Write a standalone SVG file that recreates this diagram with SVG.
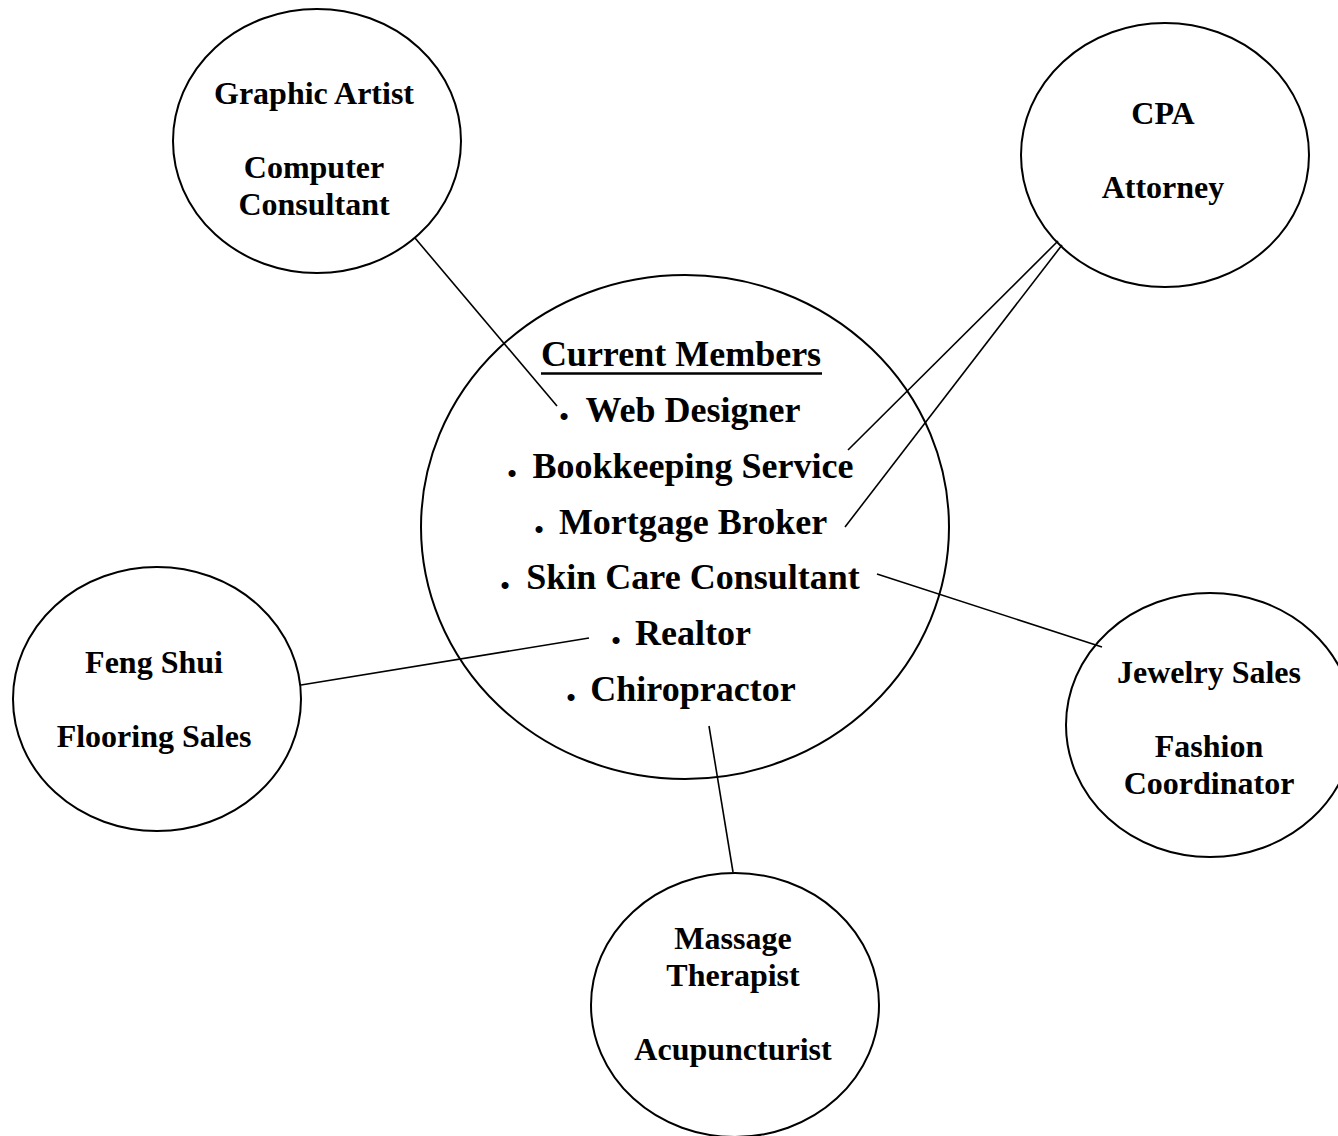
<svg xmlns="http://www.w3.org/2000/svg" width="1338" height="1136" viewBox="0 0 1338 1136">
<style>
.node{fill:#fff;stroke:#000;stroke-width:2}
.t{font-family:"Liberation Serif","Times New Roman",serif;font-weight:bold;font-size:32px;fill:#000;text-anchor:middle}
.m{font-family:"Liberation Serif","Times New Roman",serif;font-weight:bold;font-size:36px;fill:#000;text-anchor:middle}
.b{font-family:"Liberation Serif","Times New Roman",serif;font-weight:bold;font-size:26px;fill:#000;text-anchor:middle}
.c{stroke:#000;stroke-width:1.6;fill:none}
</style>
<rect width="1338" height="1136" fill="#fff"/>
<g id="central">
<ellipse class="node" cx="685" cy="527" rx="264" ry="252"/>
<text class="m" x="681" y="366">Current Members</text>
<line x1="541" y1="373.5" x2="822" y2="373.5" stroke="#000" stroke-width="2.5"/>
<text class="b" x="564" y="425">•</text><text class="m" x="693" y="422">Web Designer</text>
<text class="b" x="512" y="482">•</text><text class="m" x="693" y="478">Bookkeeping Service</text>
<text class="b" x="539" y="538">•</text><text class="m" x="693" y="534">Mortgage Broker</text>
<text class="b" x="505" y="594">•</text><text class="m" x="693" y="589">Skin Care Consultant</text>
<text class="b" x="616" y="649">•</text><text class="m" x="693" y="645">Realtor</text>
<text class="b" x="571" y="706">•</text><text class="m" x="693" y="701">Chiropractor</text>
</g>
<g id="graphic">
<ellipse class="node" cx="317" cy="141" rx="144" ry="132"/>
<text class="t" x="314" y="104">Graphic Artist</text>
<text class="t" x="314" y="178">Computer</text>
<text class="t" x="314" y="215">Consultant</text>
</g>
<g id="cpa">
<ellipse class="node" cx="1165" cy="155" rx="144" ry="132"/>
<text class="t" x="1163" y="124">CPA</text>
<text class="t" x="1163" y="198">Attorney</text>
</g>
<g id="fengshui">
<ellipse class="node" cx="157" cy="699" rx="144" ry="132"/>
<text class="t" x="154" y="673">Feng Shui</text>
<text class="t" x="154" y="747">Flooring Sales</text>
</g>
<g id="jewelry">
<ellipse class="node" cx="1210" cy="725" rx="144" ry="132"/>
<text class="t" x="1209" y="683">Jewelry Sales</text>
<text class="t" x="1209" y="757">Fashion</text>
<text class="t" x="1209" y="794">Coordinator</text>
</g>
<g id="massage">
<ellipse class="node" cx="735" cy="1005" rx="144" ry="132"/>
<text class="t" x="733" y="949">Massage</text>
<text class="t" x="733" y="986">Therapist</text>
<text class="t" x="733" y="1060">Acupuncturist</text>
</g>
<g id="connectors">
<line class="c" x1="415" y1="238" x2="557" y2="406"/>
<line class="c" x1="1058" y1="241" x2="848" y2="450"/>
<line class="c" x1="1062" y1="245" x2="845" y2="527"/>
<line class="c" x1="877" y1="574" x2="1102" y2="647"/>
<line class="c" x1="589" y1="638" x2="301" y2="685"/>
<line class="c" x1="709" y1="726" x2="733" y2="872"/>
</g>
</svg>
